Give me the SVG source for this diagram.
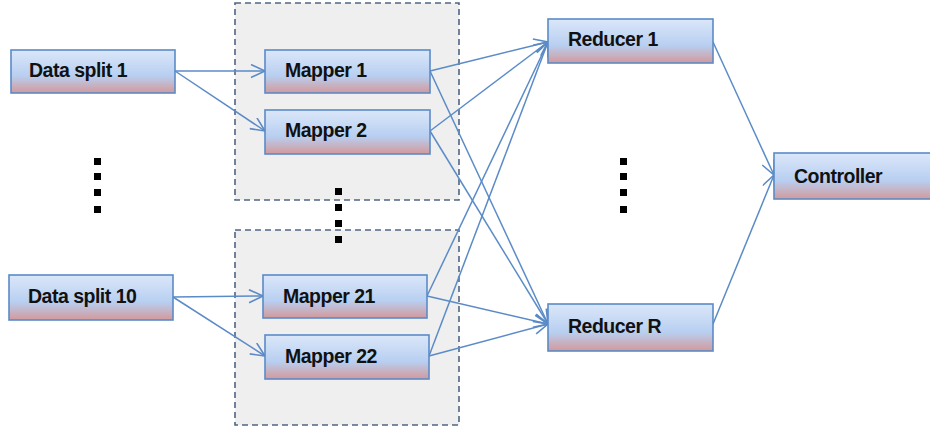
<svg xmlns="http://www.w3.org/2000/svg" width="930" height="432" viewBox="0 0 930 432">
<defs>
<linearGradient id="g" x1="0" y1="0" x2="0" y2="1">
<stop offset="0" stop-color="#dbe7f9"/>
<stop offset="0.6" stop-color="#b8cff1"/>
<stop offset="1" stop-color="#d3999b"/>
</linearGradient>
<marker id="ah" markerUnits="userSpaceOnUse" markerWidth="18" markerHeight="16" refX="15" refY="7" orient="auto">
<path d="M1,0.5 L15,7 L1,13.5" fill="none" stroke="#5b8bc7" stroke-width="1.6"/>
</marker>
<style>
.grp{fill:#efefef;stroke:#4f6584;stroke-width:1.6;stroke-dasharray:6 4}
.box{fill:url(#g);stroke:#5b8bc7;stroke-width:1.6}
.lbl{font-family:"Liberation Sans",Arial,sans-serif;font-weight:bold;font-size:19.5px;fill:#111;letter-spacing:-0.5px}
.dot{fill:#000}
.c{stroke:#5b8bc7;stroke-width:1.5;fill:none;marker-end:url(#ah)}
</style>
</defs>
<rect width="930" height="432" fill="#fff"/>
<rect class="grp" x="235" y="3" width="224" height="197"/>
<rect class="grp" x="235" y="230" width="224" height="195"/>
<g id="dots-left"><rect class="dot" x="94" y="158" width="7" height="7"/><rect class="dot" x="94" y="173" width="7" height="7"/><rect class="dot" x="94" y="189" width="7" height="7"/><rect class="dot" x="94" y="206" width="7" height="7"/></g>
<g id="dots-mid"><rect class="dot" x="335" y="188" width="7" height="7"/><rect class="dot" x="335" y="204" width="7" height="7"/><rect class="dot" x="335" y="220" width="7" height="7"/><rect class="dot" x="335" y="236" width="7" height="7"/></g>
<g id="dots-right"><rect class="dot" x="620" y="158" width="7" height="7"/><rect class="dot" x="620" y="173" width="7" height="7"/><rect class="dot" x="620" y="189" width="7" height="7"/><rect class="dot" x="620" y="206" width="7" height="7"/></g>
<g id="connectors">
<line class="c" x1="175" y1="71" x2="265" y2="71"/>
<line class="c" x1="175" y1="71" x2="265" y2="131"/>
<line class="c" x1="173" y1="297" x2="263" y2="296"/>
<line class="c" x1="173" y1="297" x2="265" y2="356"/>
<line class="c" x1="430" y1="71" x2="548" y2="42"/>
<line class="c" x1="430" y1="71" x2="548" y2="324"/>
<line class="c" x1="430" y1="131" x2="548" y2="42"/>
<line class="c" x1="430" y1="131" x2="548" y2="324"/>
<line class="c" x1="427" y1="296" x2="548" y2="42"/>
<line class="c" x1="427" y1="296" x2="548" y2="324"/>
<line class="c" x1="429" y1="356" x2="548" y2="42"/>
<line class="c" x1="429" y1="356" x2="548" y2="324"/>
<line class="c" x1="713" y1="42" x2="774" y2="175"/>
<line class="c" x1="713" y1="324" x2="774" y2="175"/>
</g>
<g id="ds1"><rect class="box" x="11" y="50" width="164" height="43"/><text class="lbl" x="29" y="77">Data split 1</text></g>
<g id="ds10"><rect class="box" x="9" y="275" width="164" height="45"/><text class="lbl" x="28" y="303">Data split 10</text></g>
<g id="m1"><rect class="box" x="265" y="50" width="165" height="43"/><text class="lbl" x="285" y="77">Mapper 1</text></g>
<g id="m2"><rect class="box" x="265" y="110" width="165" height="44"/><text class="lbl" x="285" y="137">Mapper 2</text></g>
<g id="m21"><rect class="box" x="263" y="275" width="164" height="43"/><text class="lbl" x="283" y="303">Mapper 21</text></g>
<g id="m22"><rect class="box" x="265" y="335" width="164" height="44"/><text class="lbl" x="285" y="363">Mapper 22</text></g>
<g id="r1"><rect class="box" x="548" y="19" width="165" height="44"/><text class="lbl" x="568" y="46">Reducer 1</text></g>
<g id="rR"><rect class="box" x="548" y="304" width="165" height="47"/><text class="lbl" x="568" y="333">Reducer R</text></g>
<g id="ctrl"><rect class="box" x="774" y="153" width="165" height="46"/><text class="lbl" x="794" y="183">Controller</text></g>
</svg>
